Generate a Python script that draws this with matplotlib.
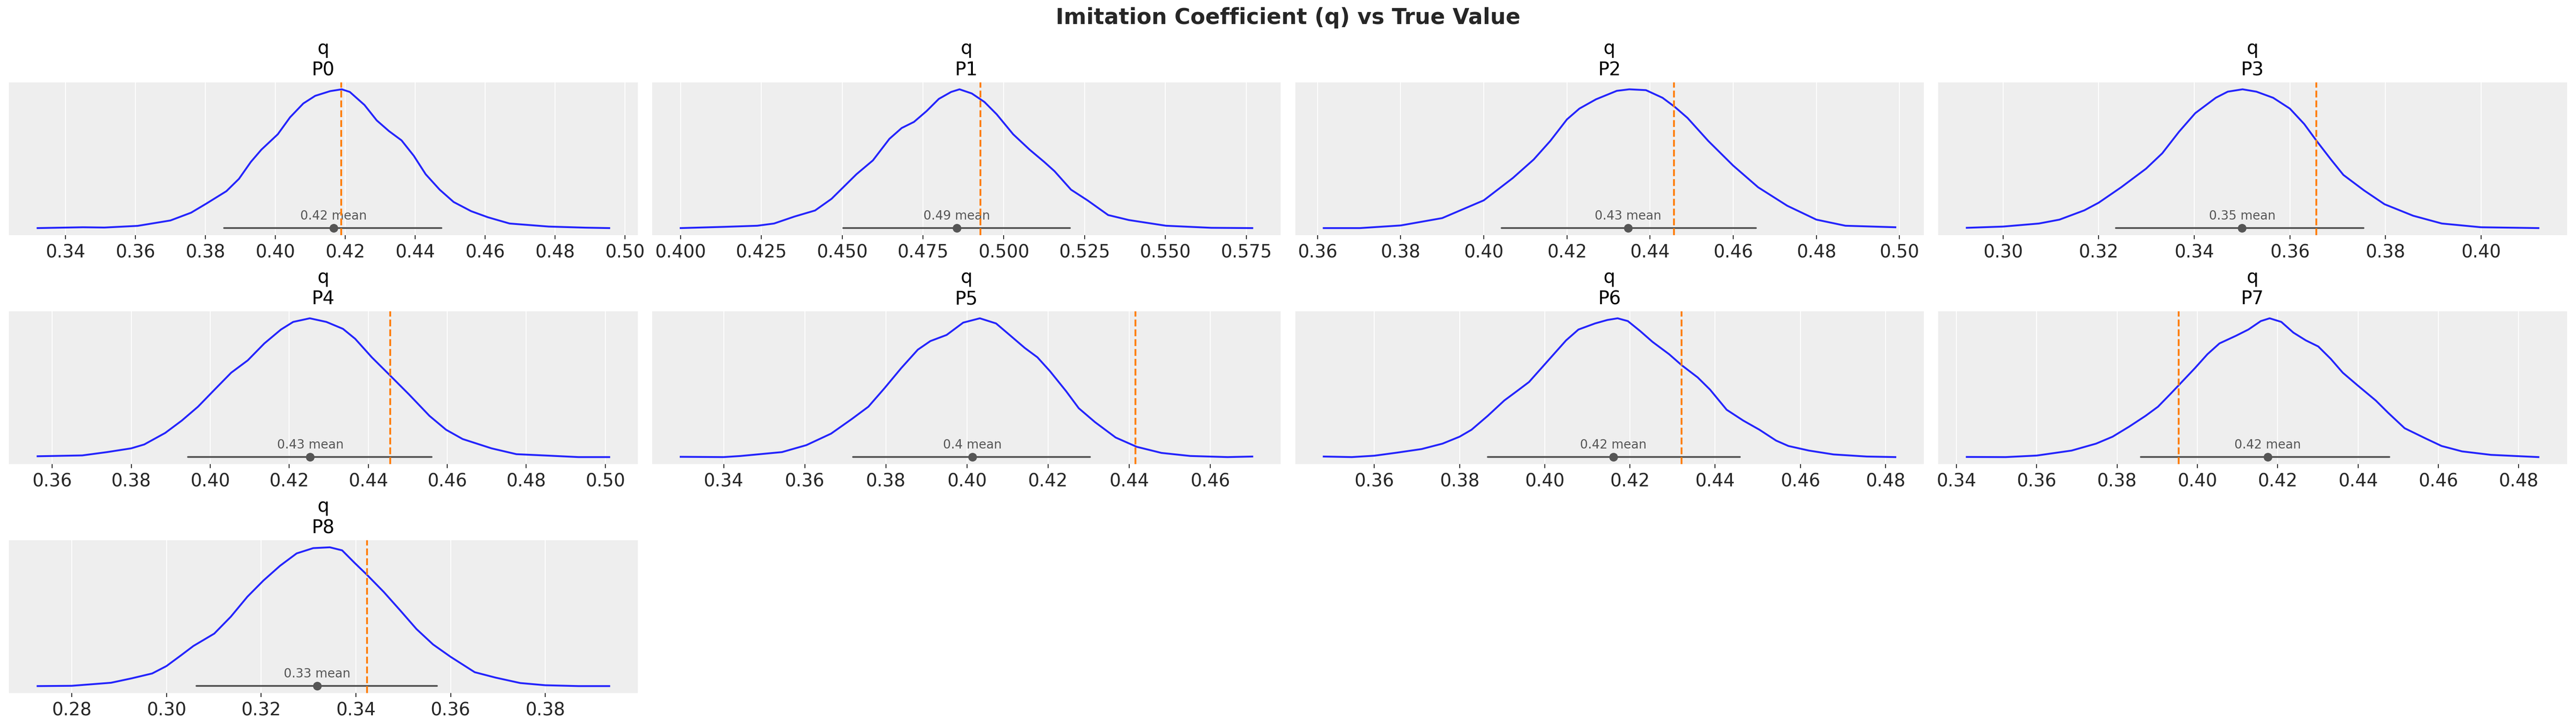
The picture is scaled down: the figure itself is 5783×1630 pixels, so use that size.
import matplotlib
matplotlib.use("Agg")
import matplotlib.pyplot as plt
from matplotlib.ticker import MultipleLocator

# posterior summaries
params = ["P0", "P1", "P2", "P3", "P4", "P5", "P6", "P7", "P8"]
true_q = [0.4188, 0.4927, 0.4458, 0.3655, 0.4456, 0.4416, 0.4321, 0.3954, 0.3424]
post_mean = [0.4167, 0.4855, 0.4347, 0.3500, 0.4253, 0.4014, 0.4161, 0.4175, 0.3318]
hdi_low = [0.3853, 0.4503, 0.4043, 0.3236, 0.3944, 0.3719, 0.3866, 0.3859, 0.3063]
hdi_high = [0.4475, 0.5205, 0.4655, 0.3754, 0.4561, 0.4304, 0.4458, 0.4478, 0.3571]
tick_step = [0.02, 0.025, 0.02, 0.02, 0.02, 0.02, 0.02, 0.02, 0.02]

# KDE curves (x grid, relative density)
x_p0 = [0.332, 0.345, 0.3511, 0.3606, 0.370, 0.3759, 0.3803, 0.386, 0.3896, 0.393, 0.396,
        0.4007, 0.4042, 0.408, 0.4114, 0.4157, 0.419, 0.4213, 0.4255, 0.429, 0.4325, 0.4361,
        0.4396, 0.443, 0.447, 0.451, 0.456, 0.4608, 0.467, 0.4782, 0.4888, 0.4955]
d_p0 = [0.0, 0.006, 0.004, 0.016, 0.055, 0.111, 0.177, 0.266, 0.355, 0.477, 0.565,
        0.676, 0.798, 0.898, 0.953, 0.987, 1.0, 0.981, 0.887, 0.776, 0.699, 0.632,
        0.521, 0.388, 0.277, 0.188, 0.122, 0.078, 0.033, 0.011, 0.003, 0.0]

x_p1 = [0.400, 0.4135, 0.4237, 0.4289, 0.4352, 0.4416, 0.4467, 0.4544, 0.4595, 0.4646,
        0.4684, 0.4722, 0.4761, 0.4799, 0.4837, 0.4863, 0.4901, 0.494, 0.4978, 0.5029,
        0.508, 0.5125, 0.5157, 0.5208, 0.5259, 0.5323, 0.5387, 0.5502, 0.5642, 0.5769]
d_p1 = [0.0, 0.009, 0.017, 0.033, 0.083, 0.127, 0.211, 0.388, 0.488, 0.643,
        0.721, 0.765, 0.843, 0.931, 0.981, 1.0, 0.970, 0.909, 0.820, 0.676,
        0.565, 0.477, 0.410, 0.277, 0.200, 0.094, 0.058, 0.017, 0.002, 0.0]

x_p2 = [0.3615, 0.3702, 0.38, 0.390, 0.40, 0.407, 0.412, 0.416, 0.42, 0.423, 0.427, 0.432,
        0.435, 0.439, 0.443, 0.446, 0.449, 0.454, 0.46, 0.466, 0.473, 0.48, 0.487, 0.499]
d_p2 = [0.0, 0.0, 0.019, 0.072, 0.2, 0.361, 0.494, 0.628, 0.783, 0.861, 0.928, 0.989,
        1.0, 0.994, 0.939, 0.872, 0.794, 0.628, 0.45, 0.294, 0.161, 0.061, 0.017, 0.006]

x_p3 = [0.2924, 0.30, 0.3075, 0.3118, 0.317, 0.32, 0.3247, 0.3299, 0.3333, 0.3368, 0.3402,
        0.3445, 0.347, 0.3501, 0.353, 0.3565, 0.36, 0.363, 0.3656, 0.3686, 0.3712, 0.3755,
        0.3798, 0.3858, 0.3918, 0.40, 0.412]
d_p3 = [0.002, 0.011, 0.033, 0.061, 0.128, 0.183, 0.294, 0.428, 0.539, 0.694, 0.828,
        0.939, 0.983, 1.0, 0.983, 0.939, 0.861, 0.75, 0.628, 0.494, 0.383, 0.272,
        0.172, 0.089, 0.033, 0.006, 0.0]

x_p4 = [0.3563, 0.3676, 0.3739, 0.38, 0.3833, 0.3886, 0.3928, 0.3969, 0.4011, 0.4053,
        0.4095, 0.4137, 0.4179, 0.421, 0.4252, 0.4294, 0.4336, 0.4367, 0.4409, 0.4456,
        0.4503, 0.4555, 0.4597, 0.4639, 0.4712, 0.4775, 0.4859, 0.4932, 0.501]
d_p4 = [0.006, 0.012, 0.036, 0.063, 0.091, 0.174, 0.263, 0.363, 0.486, 0.608,
        0.697, 0.819, 0.919, 0.974, 1.0, 0.974, 0.924, 0.852, 0.719, 0.586,
        0.452, 0.297, 0.197, 0.130, 0.063, 0.021, 0.010, 0.0, 0.0]

x_p5 = [0.3294, 0.34, 0.3442, 0.3493, 0.3544, 0.3604, 0.3665, 0.3716, 0.3757, 0.3797,
        0.3838, 0.3879, 0.391, 0.395, 0.3991, 0.4032, 0.4072, 0.4103, 0.4143, 0.4174,
        0.4205, 0.4245, 0.4276, 0.4316, 0.4367, 0.4419, 0.448, 0.4551, 0.4643, 0.4704]
d_p5 = [0.002, 0.0, 0.008, 0.022, 0.036, 0.086, 0.169, 0.274, 0.363, 0.497,
        0.641, 0.774, 0.836, 0.88, 0.969, 1.0, 0.963, 0.886, 0.786, 0.719,
        0.619, 0.474, 0.352, 0.252, 0.141, 0.074, 0.030, 0.008, 0.0, 0.004]

x_p6 = [0.3481, 0.3547, 0.36, 0.3653, 0.3711, 0.376, 0.38, 0.3828, 0.3866, 0.3905, 0.3934,
        0.3963, 0.3992, 0.4021, 0.405, 0.4079, 0.4118, 0.4147, 0.4171, 0.4195, 0.4224,
        0.4253, 0.4292, 0.4321, 0.4359, 0.4388, 0.4427, 0.4466, 0.4504, 0.4543, 0.4572,
        0.462, 0.4678, 0.4756, 0.4823]
d_p6 = [0.004, 0.0, 0.010, 0.032, 0.058, 0.097, 0.147, 0.197, 0.297, 0.408, 0.474,
        0.541, 0.641, 0.741, 0.841, 0.919, 0.963, 0.988, 1.0, 0.980, 0.908,
        0.830, 0.741, 0.663, 0.574, 0.486, 0.341, 0.263, 0.197, 0.119, 0.080,
        0.047, 0.019, 0.004, 0.0]

x_p7 = [0.3426, 0.3523, 0.36, 0.3687, 0.3748, 0.3789, 0.383, 0.3871, 0.3902, 0.3932,
        0.3954, 0.3994, 0.4025, 0.4055, 0.4096, 0.4127, 0.4158, 0.418, 0.4209, 0.4239,
        0.427, 0.4301, 0.4332, 0.4362, 0.4398, 0.4444, 0.4475, 0.4516, 0.4567, 0.4608,
        0.4659, 0.4731, 0.4849]
d_p7 = [0.001, 0.0, 0.011, 0.047, 0.097, 0.147, 0.219, 0.297, 0.363, 0.452,
        0.519, 0.641, 0.741, 0.819, 0.874, 0.919, 0.980, 1.0, 0.974, 0.897,
        0.841, 0.797, 0.708, 0.608, 0.519, 0.408, 0.319, 0.208, 0.136, 0.080,
        0.041, 0.016, 0.0]

x_p8 = [0.2728, 0.28, 0.2883, 0.2927, 0.297, 0.30, 0.3031, 0.3057, 0.3101, 0.3136,
        0.3171, 0.3205, 0.324, 0.3275, 0.331, 0.3345, 0.3371, 0.3397, 0.3424, 0.3459,
        0.3494, 0.3528, 0.3563, 0.36, 0.3651, 0.3695, 0.3747, 0.38, 0.387, 0.3935]
d_p8 = [0.0, 0.002, 0.024, 0.056, 0.091, 0.144, 0.222, 0.289, 0.378, 0.5,
        0.644, 0.761, 0.867, 0.956, 0.994, 1.0, 0.978, 0.889, 0.8, 0.678,
        0.544, 0.411, 0.3, 0.211, 0.1, 0.061, 0.022, 0.006, 0.0, 0.0]

kde_x = [x_p0, x_p1, x_p2, x_p3, x_p4, x_p5, x_p6, x_p7, x_p8]
kde_d = [d_p0, d_p1, d_p2, d_p3, d_p4, d_p5, d_p6, d_p7, d_p8]

plt.rcParams.update({
    "axes.facecolor": "#eeeeee",
    "axes.edgecolor": "#eeeeee",
    "axes.grid": True,
    "axes.grid.axis": "x",
    "grid.color": "white",
    "grid.linewidth": 1.4,
    "xtick.color": "#262626",
    "xtick.labelsize": 29,
    "xtick.major.size": 6.5,
    "xtick.major.width": 1.5,
    "xtick.major.pad": 7,
})

fig, axes = plt.subplots(3, 4, figsize=(57.83, 16.31), dpi=100)
fig.subplots_adjust(left=0.0035, right=0.9965, top=0.886, bottom=0.0454,
                    wspace=0.0227, hspace=0.5)

for i, ax in enumerate(axes.flat):
    if i >= len(params):
        ax.remove()
        continue
    for s in ax.spines.values():
        s.set_visible(False)
    ax.plot(kde_x[i], kde_d[i], color="blue", alpha=0.85, lw=3, zorder=3)
    peak = max(kde_d[i])
    ax.plot([hdi_low[i], hdi_high[i]], [0, 0], color="#555555", lw=2.9,
            solid_capstyle="round", zorder=4)
    ax.plot([post_mean[i]], [0], "o", color="#555555", ms=13, zorder=5)
    ax.text(post_mean[i], peak * 0.065, f"{round(post_mean[i], 2):g} mean",
            ha="center", va="baseline", fontsize=20, color="#555555", zorder=5)
    ax.axvline(true_q[i], color="#ff7f0e", ls="--", lw=3, zorder=6)
    ax.xaxis.set_major_locator(MultipleLocator(tick_step[i]))
    ax.set_yticks([])
    ax.set_title("q\n" + params[i], fontsize=30, pad=12)

fig.suptitle("Imitation Coefficient (q) vs True Value", fontsize=35,
             fontweight="bold", color="#262626", y=0.9755, va="center")

fig.savefig("out.png", dpi=100, facecolor="white")
